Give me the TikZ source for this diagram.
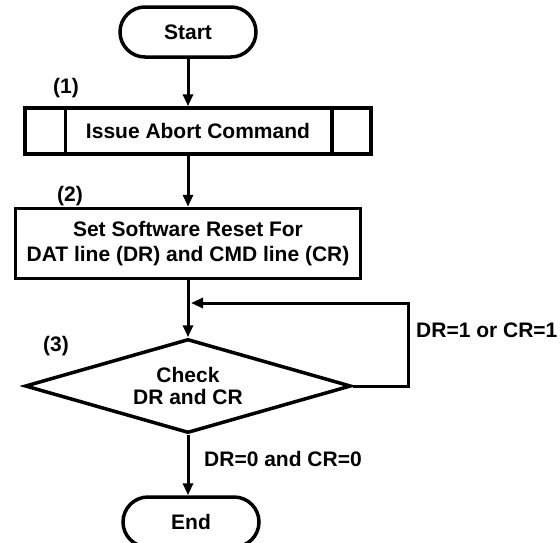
\documentclass[tikz,border=0pt]{standalone}
\usepackage{fontspec}
\setmainfont{Liberation Sans}
\usetikzlibrary{arrows.meta,positioning,shapes.geometric}

\begin{document}
\begin{tikzpicture}[x=1pt,y=-1pt,
  every node/.style={font=\fontsize{21}{25}\selectfont\bfseries},
  term/.style={draw,line width=3.5pt,rounded corners=25pt,minimum width=136pt,minimum height=50pt,inner sep=0pt},
  proc/.style={draw,line width=3.5pt,inner sep=0pt,align=center},
  cond/.style={diamond,draw,line width=3.5pt,aspect=3.3,inner sep=0pt,align=center,font=\fontsize{21}{22}\selectfont\bfseries},
  arc/.style={-{Triangle[length=12pt,width=10pt]},line width=3pt},
  lab/.style={inner sep=0pt}
]
\useasboundingbox (0,0) rectangle (560,542);
\node[term] (start) at (188,32) {Start};
\node[proc,minimum width=346pt,minimum height=46pt] (abort) at (198,131) {Issue Abort Command};
\draw[line width=3.5pt] ([xshift=42pt]abort.north west) -- ([xshift=42pt]abort.south west);
\draw[line width=3.5pt] ([xshift=-41pt]abort.north east) -- ([xshift=-41pt]abort.south east);
\node[proc,minimum width=345pt,minimum height=70pt] (reset) at (188,243.5) {Set Software Reset For\\DAT line (DR) and CMD line (CR)};
\node[cond,minimum width=326pt,minimum height=94pt] (check) at (188,386) {Check\\DR and CR};
\node[term] (end) at (191,522) {End};
\coordinate (loop) at (408,303);
\coordinate (join) at (check.north |- loop);
% step labels
\node[lab] (n1) at (66,88) {(1)};
\node[lab] (n2) at (70,196) {(2)};
\node[lab] (n3) at (56,346) {(3)};
\node[lab,anchor=west] (again) at (416,330) {DR=1 or CR=1};
\node[lab,anchor=west] (done) at (204,459) {DR=0 and CR=0};
% connectors
\draw[arc] (start) -- (start |- abort.north);
\draw[arc] (reset |- abort.south) -- (reset);
\draw[arc] (reset) -- (check);
\draw[arc,shorten >=3pt] (check.east) -| (loop) -- (join);
\draw[arc] (check.south) -- (check.south |- end.north);
\end{tikzpicture}
\end{document}
